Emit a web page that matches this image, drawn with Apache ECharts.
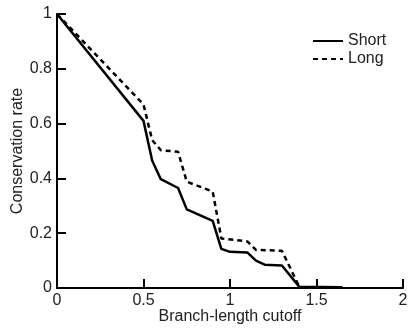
<!DOCTYPE html>
<html>
<head>
<meta charset="utf-8">
<script src="https://cdn.jsdelivr.net/npm/echarts@6/dist/echarts.min.js"></script>
<style>
  html, body { margin: 0; padding: 0; background: #fff; }
  #chart { width: 409px; height: 328px; }
</style>
</head>
<body>
<div id="chart"></div>
<script>
// branch-length cutoff vs conservation rate
const shortX = [0, 0.5, 0.55, 0.6, 0.7, 0.75, 0.9, 0.95, 1.0, 1.1, 1.15, 1.2, 1.3, 1.4, 1.65];
const shortY = [1, 0.61, 0.465, 0.397, 0.365, 0.287, 0.245, 0.143, 0.132, 0.13, 0.1, 0.085, 0.082, 0.005, 0.003];
const longX = [0, 0.5, 0.55, 0.6, 0.7, 0.75, 0.9, 0.95, 1.1, 1.15, 1.3, 1.4];
const longY = [1, 0.67, 0.54, 0.503, 0.497, 0.388, 0.352, 0.181, 0.17, 0.139, 0.136, 0.005];
const seriesNames = ['Short', 'Long'];

const pairs = (xs, ys) => xs.map((x, i) => [x, ys[i]]);
const font = 'Liberation Sans, Arial, sans-serif';
const ink = '#222';

const chart = echarts.init(document.getElementById('chart'), null, { renderer: 'canvas' });

chart.setOption({
  animation: false,
  backgroundColor: '#fff',
  grid: { left: 57, right: 6, top: 14, bottom: 40, containLabel: false, outerBoundsMode: 'none' },
  legend: {
    orient: 'vertical',
    left: 312,
    top: 33,
    padding: 0,
    itemGap: 2,
    itemWidth: 30,
    itemHeight: 12,
    itemStyle: { opacity: 0 },
    textStyle: { fontFamily: font, fontSize: 16, color: ink },
    data: seriesNames
  },
  xAxis: {
    type: 'value',
    min: 0,
    max: 2,
    interval: 0.5,
    name: 'Branch-length cutoff',
    nameLocation: 'middle',
    nameGap: 21,
    nameMoveOverlap: false,
    nameTextStyle: { fontFamily: font, fontSize: 16, color: ink },
    axisLine: { lineStyle: { color: '#000', width: 2 } },
    axisTick: { inside: true, length: 9, lineStyle: { color: '#000', width: 2 } },
    axisLabel: { fontFamily: font, fontSize: 16, color: ink, margin: 5 },
    splitLine: { show: false }
  },
  yAxis: {
    type: 'value',
    min: 0,
    max: 1,
    interval: 0.2,
    name: 'Conservation rate',
    nameLocation: 'middle',
    nameGap: 31,
    nameMoveOverlap: false,
    nameTextStyle: { fontFamily: font, fontSize: 16, color: ink },
    axisLine: { lineStyle: { color: '#000', width: 2 } },
    axisTick: { inside: true, length: 9, lineStyle: { color: '#000', width: 2 } },
    axisLabel: { fontFamily: font, fontSize: 16, color: ink, margin: 5 },
    splitLine: { show: false }
  },
  series: [
    {
      name: seriesNames[0],
      type: 'line',
      data: pairs(shortX, shortY),
      symbol: 'none',
      lineStyle: { color: '#000', width: 2.5 },
      itemStyle: { color: '#000' }
    },
    {
      name: seriesNames[1],
      type: 'line',
      data: pairs(longX, longY),
      symbol: 'none',
      lineStyle: { color: '#000', width: 2.5, type: [5, 4] },
      itemStyle: { color: '#000' }
    }
  ]
});
</script>
</body>
</html>
